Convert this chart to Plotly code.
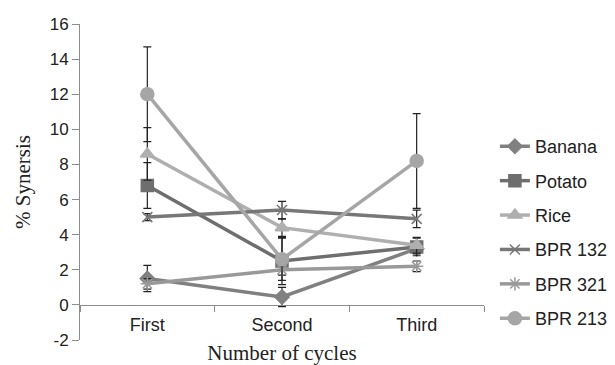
import plotly.graph_objects as go

categories = ["First", "Second", "Third"]
series_names = ["Banana", "Potato", "Rice", "BPR 132", "BPR 321", "BPR 213"]
banana = [1.5, 0.45, 3.2]
banana_err = [0.75, 0.55, 0.3]
potato = [6.8, 2.5, 3.3]
potato_err = [1.3, 1.35, 0.5]
rice = [8.6, 4.4, 3.4]
rice_err = [1.5, 0.5, 0.45]
bpr132 = [5.0, 5.4, 4.9]
bpr132_err = [0.2, 0.5, 0.5]
bpr321 = [1.2, 2.0, 2.2]
bpr321_err = [0.3, 0.3, 0.3]
bpr213 = [12.0, 2.6, 8.2]
bpr213_err = [2.7, 1.2, 2.7]
y_ticks = [-2, 0, 2, 4, 6, 8, 10, 12, 14, 16]
y_tick_labels = ["-2", "0", "2", "4", "6", "8", "10", "12", "14", "16"]

values = [banana, potato, rice, bpr132, bpr321, bpr213]
errors = [banana_err, potato_err, rice_err, bpr132_err, bpr321_err, bpr213_err]
colors = ["#808080", "#6e6e6e", "#afafaf", "#777777", "#999999", "#a6a6a6"]
symbols = ["diamond", "square", "triangle-up", "x-thin-open", "asterisk-open", "circle"]
sizes = [11, 12, 12, 10, 11, 13]

fig = go.Figure()
for name, v, e, c, s, sz in zip(series_names, values, errors, colors, symbols, sizes):
    fig.add_trace(go.Scatter(
        x=categories, y=v, name=name, mode="lines+markers",
        legendgroup=name,
        line=dict(color=c, width=3.5),
        marker=dict(symbol=s, size=sz, color=c, line=dict(color=c, width=1.5)),
        error_y=dict(type="data", array=e, visible=True, color="#222222",
                     thickness=1.2, width=4),
    ))

fig.update_layout(
    width=607, height=357,
    margin=dict(l=72, r=131, t=16, b=25, autoexpand=False),
    plot_bgcolor="white", paper_bgcolor="white",
    font=dict(family="Liberation Sans, Arial", size=18, color="#222222"),
    showlegend=True,
    legend=dict(x=1.027, y=0.34, xanchor="left", yanchor="middle",
                font=dict(size=18), tracegroupgap=8, itemwidth=30),
    xaxis=dict(
        type="category", anchor="free", position=2 / 18, automargin=False,
        showline=True, linecolor="#8c8c8c", linewidth=1,
        ticks="outside", tickson="boundaries", ticklen=6, tickcolor="#8c8c8c",
        tickfont=dict(size=18), ticklabelstandoff=4,
        showgrid=False, zeroline=False, range=[-0.5, 2.5],
        title=dict(text="Number of cycles", standoff=10,
                   font=dict(family="Liberation Serif, Times New Roman", size=21)),
    ),
    yaxis=dict(
        range=[-2, 16], tickvals=y_ticks, ticktext=y_tick_labels,
        showgrid=False, zeroline=False, automargin=False,
        showline=True, linecolor="#8c8c8c", linewidth=1,
        ticks="outside", ticklen=7, tickcolor="#8c8c8c",
        tickfont=dict(size=17),
        title=dict(text="% Synersis", standoff=13,
                   font=dict(family="Liberation Serif, Times New Roman", size=21)),
    ),
)

fig.write_html("out.html")
